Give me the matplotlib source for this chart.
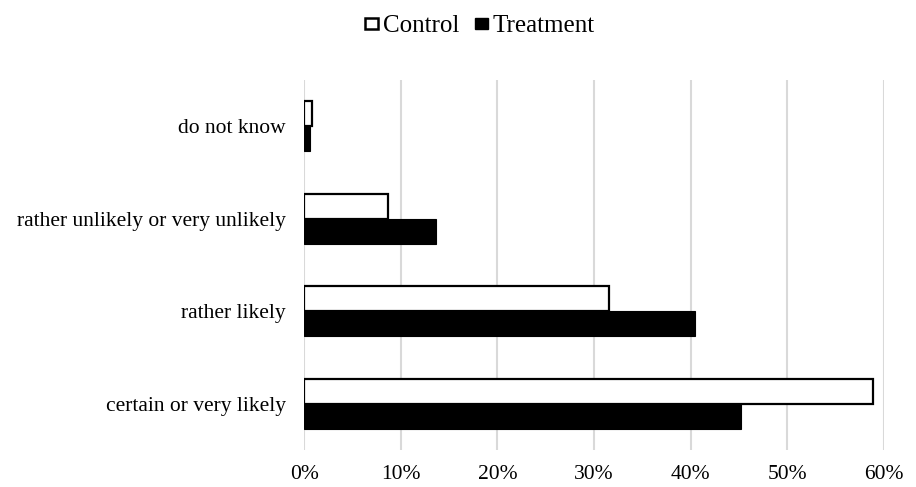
import numpy as np
import matplotlib
matplotlib.use("Agg")
import matplotlib.pyplot as plt
from matplotlib.ticker import FuncFormatter
from matplotlib.patches import Patch

# Categorías de respuesta (de abajo hacia arriba) y porcentajes por grupo
categorias = ['certain or very likely', 'rather likely',
              'rather unlikely or very unlikely', 'do not know']
control = [58.9, 31.6, 8.7, 0.8]
tratamiento = [45.2, 40.4, 13.6, 0.6]
ticks_x = [0, 10, 20, 30, 40, 50, 60]

plt.rcParams['font.family'] = ['Liberation Serif', 'DejaVu Serif']
TAM = 15.5

fig = plt.figure(figsize=(9.16, 4.87), dpi=100)
ax = fig.add_axes([0.332, 0.076, 0.633, 0.760])

y = np.arange(len(categorias))
alto = 0.27
ax.barh(y + alto / 2, control, height=alto, color='white',
        edgecolor='black', linewidth=1.6, label='Control', zorder=3)
ax.barh(y - alto / 2, tratamiento, height=alto, color='black',
        edgecolor='black', linewidth=0.8, label='Treatment', zorder=3)

ax.set_xlim(0, 60)
ax.set_ylim(-0.5, len(categorias) - 0.5)
ax.set_xticks(ticks_x)
ax.xaxis.set_major_formatter(FuncFormatter(lambda v, p: f'{v:.0f}%'))
ax.set_yticks(y)
ax.set_yticklabels(categorias)
ax.tick_params(axis='both', length=0, labelsize=TAM)
ax.tick_params(axis='y', pad=13)
ax.tick_params(axis='x', pad=11)
ax.grid(axis='x', color='#d9d9d9', linewidth=1.5, zorder=0)
for lado in ['top', 'right', 'bottom', 'left']:
    ax.spines[lado].set_visible(False)

handles = [Patch(facecolor='white', edgecolor='black', linewidth=1.8, label='Control'),
           Patch(facecolor='black', edgecolor='black', label='Treatment')]
fig.legend(handles=handles, loc='upper center', bbox_to_anchor=(0.524, 1.015),
           ncol=2, frameon=False, fontsize=18, handlelength=0.5,
           handleheight=0.3, handletextpad=0.2, columnspacing=0.65)

plt.savefig('out.png', dpi=100)
plt.close()
